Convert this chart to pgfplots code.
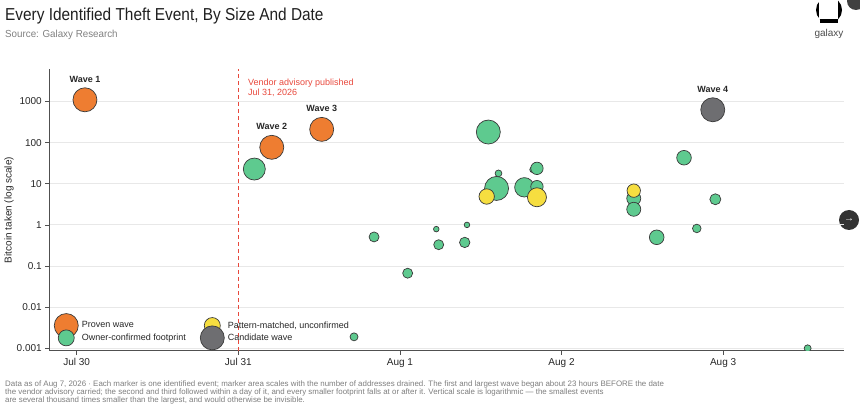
\documentclass[border=0pt]{standalone}
\usepackage{pgfplots}
\pgfplotsset{compat=1.18}
\usepackage{pgfplotstable}
\usepackage{fontspec}
\setmainfont{Liberation Sans}
\definecolor{provenC}{RGB}{238,125,49}
\definecolor{ownerC}{RGB}{94,202,143}
\definecolor{patternC}{RGB}{246,222,64}
\definecolor{candC}{RGB}{110,110,113}
\definecolor{edgeC}{RGB}{58,58,58}
\definecolor{redC}{RGB}{232,72,60}
\definecolor{axC}{RGB}{80,80,80}
\definecolor{gridC}{RGB}{232,232,232}
\definecolor{footC}{RGB}{125,125,125}

\pgfplotstableread{
x y r
1.099 22.8 11
2.547 181 12
2.610 17.9 3.4
2.598 7.7 12
2.770 8.2 9.7
2.822 22 3
2.848 23.7 6.2
2.848 8.5 6.2
1.840 0.51 5
2.225 0.79 2.8
2.240 0.33 5
2.415 1.0 2.8
2.401 0.375 5.2
2.048 0.067 5
1.716 0.0019 4
4.523 0.001 3.5
3.758 43 7.3
3.447 4.4 7
3.447 2.4 7
3.952 4.2 5.5
3.837 0.82 4.3
3.589 0.50 7.3
}\owner

\pgfplotstableread{
x y r
2.537 4.9 7.7
2.848 4.7 9.5
3.447 6.8 6.7
}\pattern

\pgfplotstableread{
x y r
0.051 1100 12
1.207 77 12
1.516 210 12
}\proven

\pgfplotstableread{
x y r
3.936 630 12
}\cand

\pgfplotsset{
  bubble/.style={
    scatter, only marks, mark=*,
    point meta={\thisrow{r}},
    scatter/use mapped color={draw=edgeC, fill=#1, line width=0.7pt},
    visualization depends on={\thisrow{r}\as\rad},
    scatter/@pre marker code/.append style={/tikz/mark size=\rad},
    forget plot
  }
}

\begin{document}
\begin{tikzpicture}
\path[use as bounding box] (0pt,0pt) rectangle (860pt,-406pt);

\node[anchor=base west, inner sep=0pt, text=black!88] at (5pt,-20.7pt)
  {\scalebox{0.89}[1]{\fontsize{17.3}{20}\selectfont Every Identified Theft Event, By Size And Date}};
\node[anchor=base west, inner sep=0pt, text=black!50] at (5pt,-37.3pt)
  {\scalebox{0.96}[1]{\fontsize{10.2}{12}\selectfont Source: Galaxy Research}};

% logo
\fill[black] (829pt,-10pt) circle (13pt);
\fill[white] (819pt,1pt) rectangle (838pt,-19pt);
\fill[black] (820pt,-19pt) rectangle (838pt,-23pt);
\node[text=black!70, inner sep=0pt] at (829pt,-34pt) {\fontsize{10}{12}\selectfont galaxy};
\fill[black!75] (856pt,-1pt) circle (9pt);
\fill[black!80] (849pt,-220pt) circle (10pt);
\node[text=white, inner sep=0pt] at (849pt,-220pt) {\fontsize{10}{12}\selectfont →};

\node[rotate=90, inner sep=0pt, text=black!85] at (9pt,-210pt)
  {\fontsize{10}{12}\selectfont Bitcoin taken (log scale)};

\node[anchor=west, inner sep=0pt, text=redC] at (248pt,-83pt) {\fontsize{9}{11}\selectfont Vendor advisory published};
\node[anchor=west, inner sep=0pt, text=redC] at (248pt,-93pt) {\fontsize{9}{11}\selectfont Jul 31, 2026};

\begin{axis}[
  scale only axis, width=794.7pt, height=281.7pt,
  at={(49.3pt,-350.7pt)}, anchor=south west,
  xmin=-0.1696, xmax=4.748,
  ymode=log, ymin=0.000875, ymax=6166,
  xtick={0,1,2,3,4}, xticklabels={Jul 30,Jul 31,Aug 1,Aug 2,Aug 3},
  ytick={0.001,0.01,0.1,1,10,100,1000},
  yticklabels={0.001,0.01,0.1,1,10,100,1000},
  yminorticks=false,
  axis x line*=bottom, axis y line*=left,
  axis line style={axC, line width=1.1pt, -},
  tick align=outside, major tick length=4pt,
  every tick/.style={axC, line width=0.8pt},
  ymajorgrids, major grid style={gridC, line width=1pt},
  tick label style={font=\fontsize{10}{12}\selectfont, text=black!85},
  clip marker paths=true,
  legend columns=2,
  legend cell align=left,
  legend style={draw=none, fill=none, at={(0.0060,0.1095)}, anchor=north west,
    font=\fontsize{9}{10}\selectfont, inner sep=0pt, text=black!85,
    nodes={inner sep=1.5pt}, row sep=1.3pt,
    /tikz/every even column/.append style={column sep=13pt},
    /tikz/every odd column/.append style={column sep=2pt}},
]
\addplot[redC, line width=1.3pt, dash pattern=on 4pt off 3pt, forget plot]
  coordinates {(1,0.000875) (1,6166)};

\addplot[bubble=ownerC] table[x=x,y=y] {\owner};
\addplot[bubble=patternC] table[x=x,y=y] {\pattern};
\addplot[bubble=provenC] table[x=x,y=y] {\proven};
\addplot[bubble=candC] table[x=x,y=y] {\cand};

\node[font=\fontsize{9}{11}\selectfont\bfseries, text=black!85] at (axis cs:0.051,1100) [yshift=20.5pt] {Wave 1};
\node[font=\fontsize{9}{11}\selectfont\bfseries, text=black!85] at (axis cs:1.207,77) [yshift=20.5pt] {Wave 2};
\node[font=\fontsize{9}{11}\selectfont\bfseries, text=black!85] at (axis cs:1.516,210) [yshift=20.5pt] {Wave 3};
\node[font=\fontsize{9}{11}\selectfont\bfseries, text=black!85] at (axis cs:3.936,630) [yshift=20.5pt] {Wave 4};

\addlegendimage{legend image code/.code={\path[draw=none,fill=none] (-12pt,-3pt) rectangle (12pt,3pt); \draw[overlay, fill=provenC, draw=edgeC, line width=0.7pt] (0pt,0pt) circle (12pt);}}
\addlegendentry{Proven wave}
\addlegendimage{legend image code/.code={\path[draw=none,fill=none] (-12pt,-3pt) rectangle (12pt,3pt); \draw[overlay, fill=patternC, draw=edgeC, line width=0.7pt] (0pt,0pt) circle (8pt);}}
\addlegendentry{Pattern-matched, unconfirmed}
\addlegendimage{legend image code/.code={\path[draw=none,fill=none] (-12pt,-3pt) rectangle (12pt,3pt); \draw[overlay, fill=ownerC, draw=edgeC, line width=0.7pt] (0pt,0pt) circle (8pt);}}
\addlegendentry{Owner-confirmed footprint}
\addlegendimage{legend image code/.code={\path[draw=none,fill=none] (-12pt,-3pt) rectangle (12pt,3pt); \draw[overlay, fill=candC, draw=edgeC, line width=0.7pt] (0pt,0pt) circle (12pt);}}
\addlegendentry{Candidate wave}
\end{axis}

\node[anchor=base west, inner sep=0pt, text=footC] at (5pt,-386pt)
  {\fontsize{7.92}{8.4}\selectfont Data as of Aug 7, 2026 · Each marker is one identified event; marker area scales with the number of addresses drained. The first and largest wave began about 23 hours BEFORE the date};
\node[anchor=base west, inner sep=0pt, text=footC] at (5pt,-394.4pt)
  {\fontsize{7.92}{8.4}\selectfont the vendor advisory carried; the second and third followed within a day of it, and every smaller footprint falls at or after it. Vertical scale is logarithmic — the smallest events};
\node[anchor=base west, inner sep=0pt, text=footC] at (5pt,-402.8pt)
  {\fontsize{7.92}{8.4}\selectfont are several thousand times smaller than the largest, and would otherwise be invisible.};
\end{tikzpicture}
\end{document}
